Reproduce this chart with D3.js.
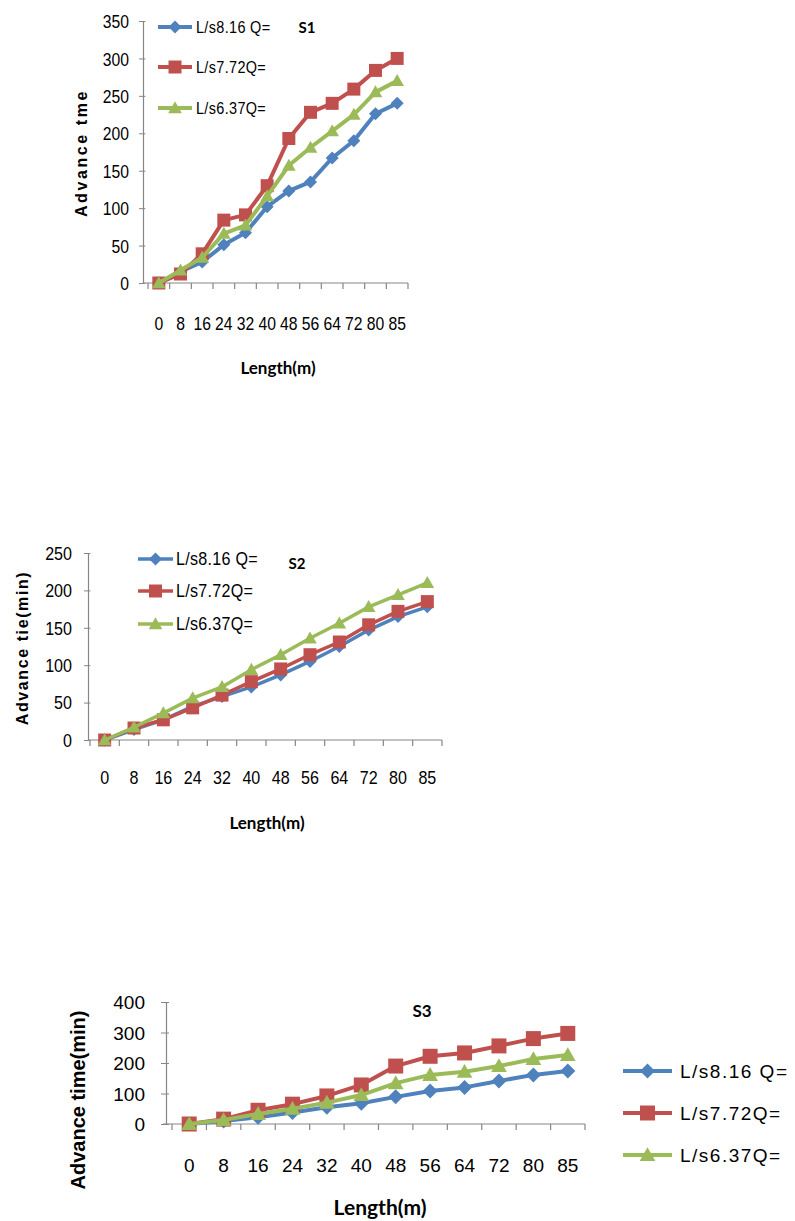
<!DOCTYPE html>
<html>
<head>
<meta charset="utf-8">
<script src="https://cdn.jsdelivr.net/npm/d3@7/dist/d3.min.js"></script>
<style>
  html, body { margin: 0; padding: 0; background: #fff; }
  svg { display: block; }
  .tick-label { font-family: Arial, "Liberation Sans", sans-serif; fill: #000; }
  .bold-title { font-family: Lato, "Open Sans", Arial, sans-serif; font-weight: 700; fill: #000; }
  .y-title { font-family: Arial, "Liberation Sans", sans-serif; font-weight: 700; fill: #000; }
</style>
</head>
<body>
<svg id="chart" width="795" height="1221"></svg>
<script>
// Field distances along the furrow (m)
const lengthLabels = ["0", "8", "16", "24", "32", "40", "48", "56", "64", "72", "80", "85"];

// Inflow rates shown in the legends
const seriesLabels = ["L/s8.16 Q=", "L/s7.72Q=", "L/s6.37Q="];
const seriesColors = ["#4F81BD", "#C0504D", "#9BBB59"];
const seriesMarkers = ["diamond", "square", "triangle"];

// S1 advance time (min)
const s1Q816 = [0, 15, 28, 51, 67, 102, 123, 135, 167, 190, 226, 240];
const s1Q772 = [0, 12, 39, 84, 91, 130, 193, 228, 240, 259, 284, 300];
const s1Q637 = [0, 17, 34, 66, 77, 116, 157, 181, 203, 225, 255, 270];
const s1Ticks = [0, 50, 100, 150, 200, 250, 300, 350];

// S2 advance time (min)
const s2Q816 = [0, 14, 27, 45, 58, 71, 87, 105, 125, 147, 165, 178];
const s2Q772 = [0, 16, 27, 43, 60, 78, 95, 114, 131, 154, 172, 185];
const s2Q637 = [0, 17, 36, 56, 71, 94, 114, 136, 156, 178, 194, 210];
const s2Ticks = [0, 50, 100, 150, 200, 250];

// S3 advance time (min)
const s3Q816 = [0, 10, 22, 38, 55, 68, 89, 108, 120, 141, 161, 174];
const s3Q772 = [0, 16, 45, 65, 92, 128, 190, 222, 233, 256, 280, 297];
const s3Q637 = [0, 13, 33, 50, 70, 95, 134, 161, 171, 190, 213, 226];
const s3Ticks = [0, 100, 200, 300, 400];

const svg = d3.select("#chart");
const axisColor = "#868686";

function markerPath(shape, r) {
  if (shape === "diamond") return `M0,${-r}L${r},0L0,${r}L${-r},0Z`;
  if (shape === "square") return `M${-r},${-r}H${r}V${r}H${-r}Z`;
  return `M0,${-r * 1.05}L${r * 1.05},${r * 0.8}L${-r * 1.05},${r * 0.8}Z`;
}

function drawChart(cfg) {
  const g = svg.append("g");
  const x = d3.scaleBand().domain(lengthLabels).range([cfg.bandStart, cfg.x1]);
  const y = d3.scaleLinear().domain([0, d3.max(cfg.ticks)]).range([cfg.yBottom, cfg.yTop]);
  const cx = d => x(d) + x.bandwidth() / 2;
  const sq = cfg.squeeze;

  // value axis
  const yAxis = d3.axisLeft(y).tickValues(cfg.ticks).tickSizeInner(cfg.yTick).tickSizeOuter(0).tickPadding(cfg.yPad);
  const ya = g.append("g").attr("transform", `translate(${cfg.x0},0)`).call(yAxis);
  ya.attr("font-family", null).attr("font-size", null);
  ya.select(".domain").attr("stroke", axisColor).attr("stroke-width", 1.2);
  ya.selectAll(".tick line").attr("stroke", axisColor).attr("x2", -cfg.yTick).attr("x1", cfg.yTick * 0.6);
  ya.selectAll(".tick text").attr("class", "tick-label").style("font-size", cfg.tickSize + "px")
    .attr("x", 0).attr("transform", `translate(${-cfg.yTick - cfg.yPad},0) scale(${sq},1)`)
    .attr("dy", "0.36em");

  // category axis
  g.append("line").attr("x1", cfg.x0 - cfg.xLead).attr("x2", cfg.x1)
    .attr("y1", cfg.yBottom).attr("y2", cfg.yBottom)
    .attr("stroke", axisColor).attr("stroke-width", 1.2);
  const bounds = lengthLabels.map(d => x(d)).concat([cfg.x1]);
  g.selectAll("line.xt").data(bounds).join("line").attr("class", "xt")
    .attr("x1", d => d).attr("x2", d => d)
    .attr("y1", cfg.yBottom).attr("y2", cfg.yBottom + 6)
    .attr("stroke", axisColor).attr("stroke-width", 1.2);
  g.selectAll("text.xl").data(lengthLabels).join("text").attr("class", "tick-label")
    .attr("transform", d => `translate(${cx(d)},${cfg.xLabelY}) scale(${sq},1)`)
    .attr("text-anchor", "middle")
    .attr("dy", "0.36em").style("font-size", cfg.tickSize + "px").text(d => d);

  // series lines and markers
  const line = d3.line().x((d, i) => cx(lengthLabels[i])).y(d => y(d));
  cfg.series.forEach((vals, s) => {
    g.append("path").datum(vals).attr("d", line).attr("fill", "none")
      .attr("stroke", seriesColors[s]).attr("stroke-width", cfg.lineW).attr("stroke-linejoin", "round");
    g.selectAll(null).data(vals).join("path")
      .attr("transform", (d, i) => `translate(${cx(lengthLabels[i])},${y(d)})`)
      .attr("d", markerPath(seriesMarkers[s], cfg.markerR))
      .attr("fill", seriesColors[s]);
  });

  // legend
  seriesLabels.forEach((lab, s) => {
    const ly = cfg.legend.ys[s];
    g.append("line").attr("x1", cfg.legend.x1).attr("x2", cfg.legend.x2).attr("y1", ly).attr("y2", ly)
      .attr("stroke", seriesColors[s]).attr("stroke-width", cfg.lineW);
    g.append("path").attr("transform", `translate(${(cfg.legend.x1 + cfg.legend.x2) / 2},${ly})`)
      .attr("d", markerPath(seriesMarkers[s], cfg.legend.r)).attr("fill", seriesColors[s]);
    g.append("text").attr("class", "tick-label")
      .attr("transform", `translate(${cfg.legend.tx},${ly}) scale(${sq},1)`).attr("dy", "0.36em")
      .style("font-size", cfg.legend.size + "px").style("letter-spacing", cfg.legend.ls + "px").text(lab);
  });

  // titles
  g.append("text").attr("class", "bold-title").attr("x", cfg.title.x).attr("y", cfg.title.y)
    .attr("dy", "0.36em").attr("text-anchor", "middle").style("font-size", cfg.title.size + "px").text(cfg.title.text);
  g.append("text").attr("class", "bold-title").attr("x", cfg.xTitle.x).attr("y", cfg.xTitle.y)
    .attr("dy", "0.36em").attr("text-anchor", "middle").style("font-size", cfg.xTitle.size + "px").text("Length(m)");
  g.append("text").attr("class", "y-title")
    .attr("transform", `translate(${cfg.yTitle.x},${cfg.yTitle.y}) rotate(-90)`)
    .attr("dy", "0.36em").attr("text-anchor", "middle")
    .style("font-size", cfg.yTitle.size + "px").style("letter-spacing", cfg.yTitle.ls + "px")
    .text(cfg.yTitle.text);
}

drawChart({
  x0: 143, bandStart: 148, x1: 408, xLead: 0, yTop: 21, yBottom: 283, squeeze: 0.85,
  ticks: s1Ticks, series: [s1Q816, s1Q772, s1Q637],
  yTick: 4, yPad: 10, tickSize: 18.5, xLabelY: 323, lineW: 4, markerR: 6.5,
  legend: { x1: 158, x2: 192, ys: [27, 67, 108], tx: 196, size: 17, ls: 0.4, r: 6.5 },
  title: { x: 307, y: 28, size: 15, text: "S1" },
  xTitle: { x: 278, y: 368, size: 17 },
  yTitle: { x: 81, y: 153, size: 16, ls: 2.6, text: "Advance tme" }
});

drawChart({
  x0: 88, bandStart: 90, x1: 442, xLead: 0, yTop: 553, yBottom: 740, squeeze: 0.92,
  ticks: s2Ticks, series: [s2Q816, s2Q772, s2Q637],
  yTick: 4, yPad: 12, tickSize: 17.5, xLabelY: 778, lineW: 3.5, markerR: 6.5,
  legend: { x1: 138, x2: 173, ys: [559, 591, 624], tx: 176, size: 17.5, ls: 0.3, r: 6.5 },
  title: { x: 297, y: 564, size: 15, text: "S2" },
  xTitle: { x: 267, y: 823, size: 17 },
  yTitle: { x: 22, y: 648, size: 16, ls: 1.6, text: "Advance tie(min)" }
});

drawChart({
  x0: 166, bandStart: 172, x1: 585, xLead: 3, yTop: 1002, yBottom: 1124, squeeze: 1,
  ticks: s3Ticks, series: [s3Q816, s3Q772, s3Q637],
  yTick: 5, yPad: 16, tickSize: 19, xLabelY: 1165, lineW: 4, markerR: 7.5,
  legend: { x1: 623, x2: 672, ys: [1071, 1113, 1155], tx: 680, size: 19, ls: 1.5, r: 7.5 },
  title: { x: 422, y: 1011, size: 17, text: "S3" },
  xTitle: { x: 380, y: 1207, size: 21 },
  yTitle: { x: 78, y: 1100, size: 20, ls: 0, text: "Advance time(min)" }
});
</script>
</body>
</html>
